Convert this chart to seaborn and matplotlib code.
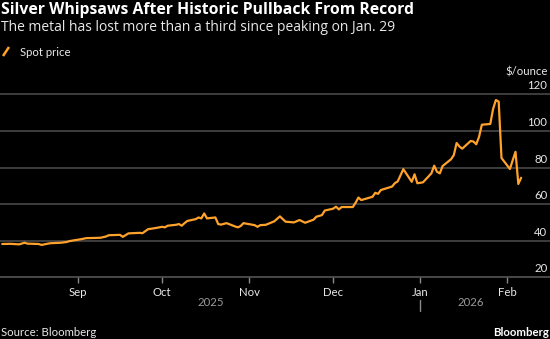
import matplotlib
matplotlib.use("Agg")
import matplotlib.pyplot as plt
import matplotlib.dates as mdates
import matplotlib.transforms as mtransforms
from matplotlib.lines import Line2D
import pandas as pd
import seaborn as sns

# Silver spot price, $/ounce
dates = [
    "2025-08-05", "2025-08-08", "2025-08-11", "2025-08-13", "2025-08-14",
    "2025-08-18", "2025-08-19", "2025-08-22", "2025-08-26", "2025-08-28",
    "2025-08-29", "2025-09-02", "2025-09-04", "2025-09-09", "2025-09-11",
    "2025-09-12", "2025-09-16", "2025-09-17", "2025-09-19", "2025-09-23",
    "2025-09-24", "2025-09-26", "2025-09-29", "2025-10-01", "2025-10-02",
    "2025-10-03", "2025-10-06", "2025-10-07", "2025-10-08", "2025-10-09",
    "2025-10-10", "2025-10-13", "2025-10-14", "2025-10-15", "2025-10-16",
    "2025-10-17", "2025-10-20", "2025-10-21", "2025-10-22", "2025-10-24",
    "2025-10-27", "2025-10-28", "2025-10-29", "2025-10-30", "2025-11-03",
    "2025-11-04", "2025-11-05", "2025-11-07", "2025-11-10", "2025-11-12",
    "2025-11-14", "2025-11-17", "2025-11-19", "2025-11-21", "2025-11-24",
    "2025-11-25", "2025-11-27", "2025-11-28", "2025-12-01", "2025-12-02",
    "2025-12-03", "2025-12-04", "2025-12-08", "2025-12-09", "2025-12-10",
    "2025-12-11", "2025-12-15", "2025-12-16", "2025-12-17", "2025-12-18",
    "2025-12-22", "2025-12-23", "2025-12-24", "2025-12-26", "2025-12-29",
    "2025-12-30", "2025-12-31", "2026-01-02", "2026-01-05", "2026-01-06",
    "2026-01-07", "2026-01-08", "2026-01-09", "2026-01-12", "2026-01-13",
    "2026-01-14", "2026-01-15", "2026-01-16", "2026-01-19", "2026-01-20",
    "2026-01-21", "2026-01-22", "2026-01-23", "2026-01-26", "2026-01-27",
    "2026-01-28", "2026-01-29", "2026-01-30", "2026-02-02", "2026-02-03",
    "2026-02-04", "2026-02-05", "2026-02-06",
]
prices = [
    38.2, 38.3, 38.0, 38.9, 38.4,
    38.2, 37.7, 38.6, 38.9, 39.3,
    39.8, 40.8, 41.4, 41.6, 42.3,
    43.0, 43.2, 42.1, 44.0, 44.3,
    44.1, 46.3, 47.0, 47.6, 47.3,
    48.2, 48.7, 49.1, 48.2, 49.6,
    50.8, 51.8, 52.7, 52.2, 54.9,
    52.2, 52.7, 49.1, 48.8, 49.6,
    47.8, 47.3, 48.0, 49.6, 48.5,
    47.6, 48.5, 48.7, 50.6, 53.3,
    50.4, 50.0, 51.3, 49.8, 51.5,
    53.1, 54.0, 56.5, 57.5, 58.6,
    57.1, 58.4, 58.4, 60.8, 63.6,
    62.2, 64.0, 66.2, 65.6, 67.7,
    69.6, 71.5, 72.4, 79.1, 72.2,
    76.3, 71.4, 71.9, 76.8, 81.0,
    77.7, 76.8, 80.8, 84.5, 86.8,
    93.4, 91.5, 90.3, 94.5, 94.2,
    92.7, 96.8, 103.4, 103.8, 112.0,
    116.9, 116.0, 85.2, 79.2, 84.0,
    88.6, 71.0, 74.4,
]
y_ticks = [20, 40, 60, 80, 100, 120]
series_label = "Spot price"
unit_label = "$/ounce"
title = "Silver Whipsaws After Historic Pullback From Record"
subtitle = "The metal has lost more than a third since peaking on Jan. 29"

df = pd.DataFrame({"date": pd.to_datetime(dates), "price": prices})

ORANGE = "#FFA22B"
GRID = "#4d4d4d"
TEXT = "#e8e8e8"
MUTED = "#9a9a9a"
SMALL = 8.2

sns.set_theme(style="dark")
plt.rcParams["font.family"] = ["Lato", "DejaVu Sans"]
HEAD_FONT = ["Open Sans", "DejaVu Sans"]

W, H = 550, 339
fig = plt.figure(figsize=(W / 100, H / 100), dpi=100, facecolor="black")
ax = fig.add_axes([0, (H - 277.3) / H, 1, (277.3 - 85) / H])
ax.set_facecolor("black")

sns.lineplot(data=df, x="date", y="price", ax=ax, color=ORANGE,
             linewidth=1.6, legend=False, zorder=3)

ax.set_xlim(pd.Timestamp("2025-08-04 05:00"), pd.Timestamp("2026-02-16 07:00"))
ax.set_ylim(20, 125.1)

# horizontal gridlines spanning the full width
for v in y_ticks[1:]:
    ax.axhline(v, color=GRID, lw=1.1, zorder=1)
for s in ["top", "right", "left"]:
    ax.spines[s].set_visible(False)
ax.spines["bottom"].set_color("#5c5c5c")
ax.spines["bottom"].set_linewidth(1.1)
ax.set_yticks([])
ax.set_xlabel("")
ax.set_ylabel("")
ax.grid(False)

# value labels sit just above their gridlines at the right edge
ylab = mtransforms.blended_transform_factory(ax.transAxes, ax.transData) + \
    mtransforms.ScaledTranslation(0, 3.5 / 72, fig.dpi_scale_trans)
for v in y_ticks:
    ax.text(0.995, v, str(v), transform=ylab, ha="right", va="baseline",
            fontsize=SMALL, color=TEXT)

# month ticks
ax.xaxis.set_major_locator(mdates.MonthLocator())
ax.xaxis.set_major_formatter(mdates.DateFormatter("%b"))
ax.tick_params(axis="x", direction="out", length=4, width=1, color="#8a8a8a",
               labelcolor=TEXT, labelsize=SMALL, pad=3, bottom=True)

# year labels centred under each year's stretch of data
blend = mtransforms.blended_transform_factory(ax.transData, fig.transFigure)
first, last = df["date"].iloc[0], df["date"].iloc[-1]
new_year = pd.Timestamp("2026-01-01")
mid25 = first + (new_year - first) / 2
mid26 = new_year + (last - new_year) / 2
ax.text(mdates.date2num(mid25), 1 - 303 / H, "2025", transform=blend,
        ha="center", va="center", fontsize=SMALL, color=MUTED)
ax.text(mdates.date2num(mid26), 1 - 303 / H, "2026", transform=blend,
        ha="center", va="center", fontsize=SMALL, color=MUTED)
ax.add_line(Line2D([mdates.date2num(new_year)] * 2, [1 - 300 / H, 1 - 311 / H],
                   transform=blend, color="#8a8a8a", lw=1, clip_on=False))

# header
fig.text(1 / W, 1 - 10 / H, title, ha="left", va="center", fontsize=11.3,
         fontweight="bold", color="white", family=HEAD_FONT)
fig.text(1 / W, 1 - 27.5 / H, subtitle, ha="left", va="center", fontsize=10.0,
         color=TEXT, family=HEAD_FONT)

# legend key
fig.add_artist(Line2D([3 / W, 9 / W], [1 - 56 / H, 1 - 47 / H],
                      transform=fig.transFigure, color=ORANGE, lw=1.8,
                      solid_capstyle="butt"))
fig.text(20 / W, 1 - 52 / H, series_label, ha="left", va="center",
         fontsize=SMALL, color=TEXT)

fig.text(548 / W, 1 - 72 / H, unit_label, ha="right", va="center",
         fontsize=SMALL, color=TEXT)

# footer
fig.text(1 / W, 1 - 332 / H, "Source: Bloomberg", ha="left", va="center",
         fontsize=SMALL, color=TEXT)
fig.text(549 / W, 1 - 332 / H, "Bloomberg", ha="right", va="center",
         fontsize=SMALL, fontweight="bold", color="white")

fig.savefig("out.png", dpi=100, facecolor="black")
